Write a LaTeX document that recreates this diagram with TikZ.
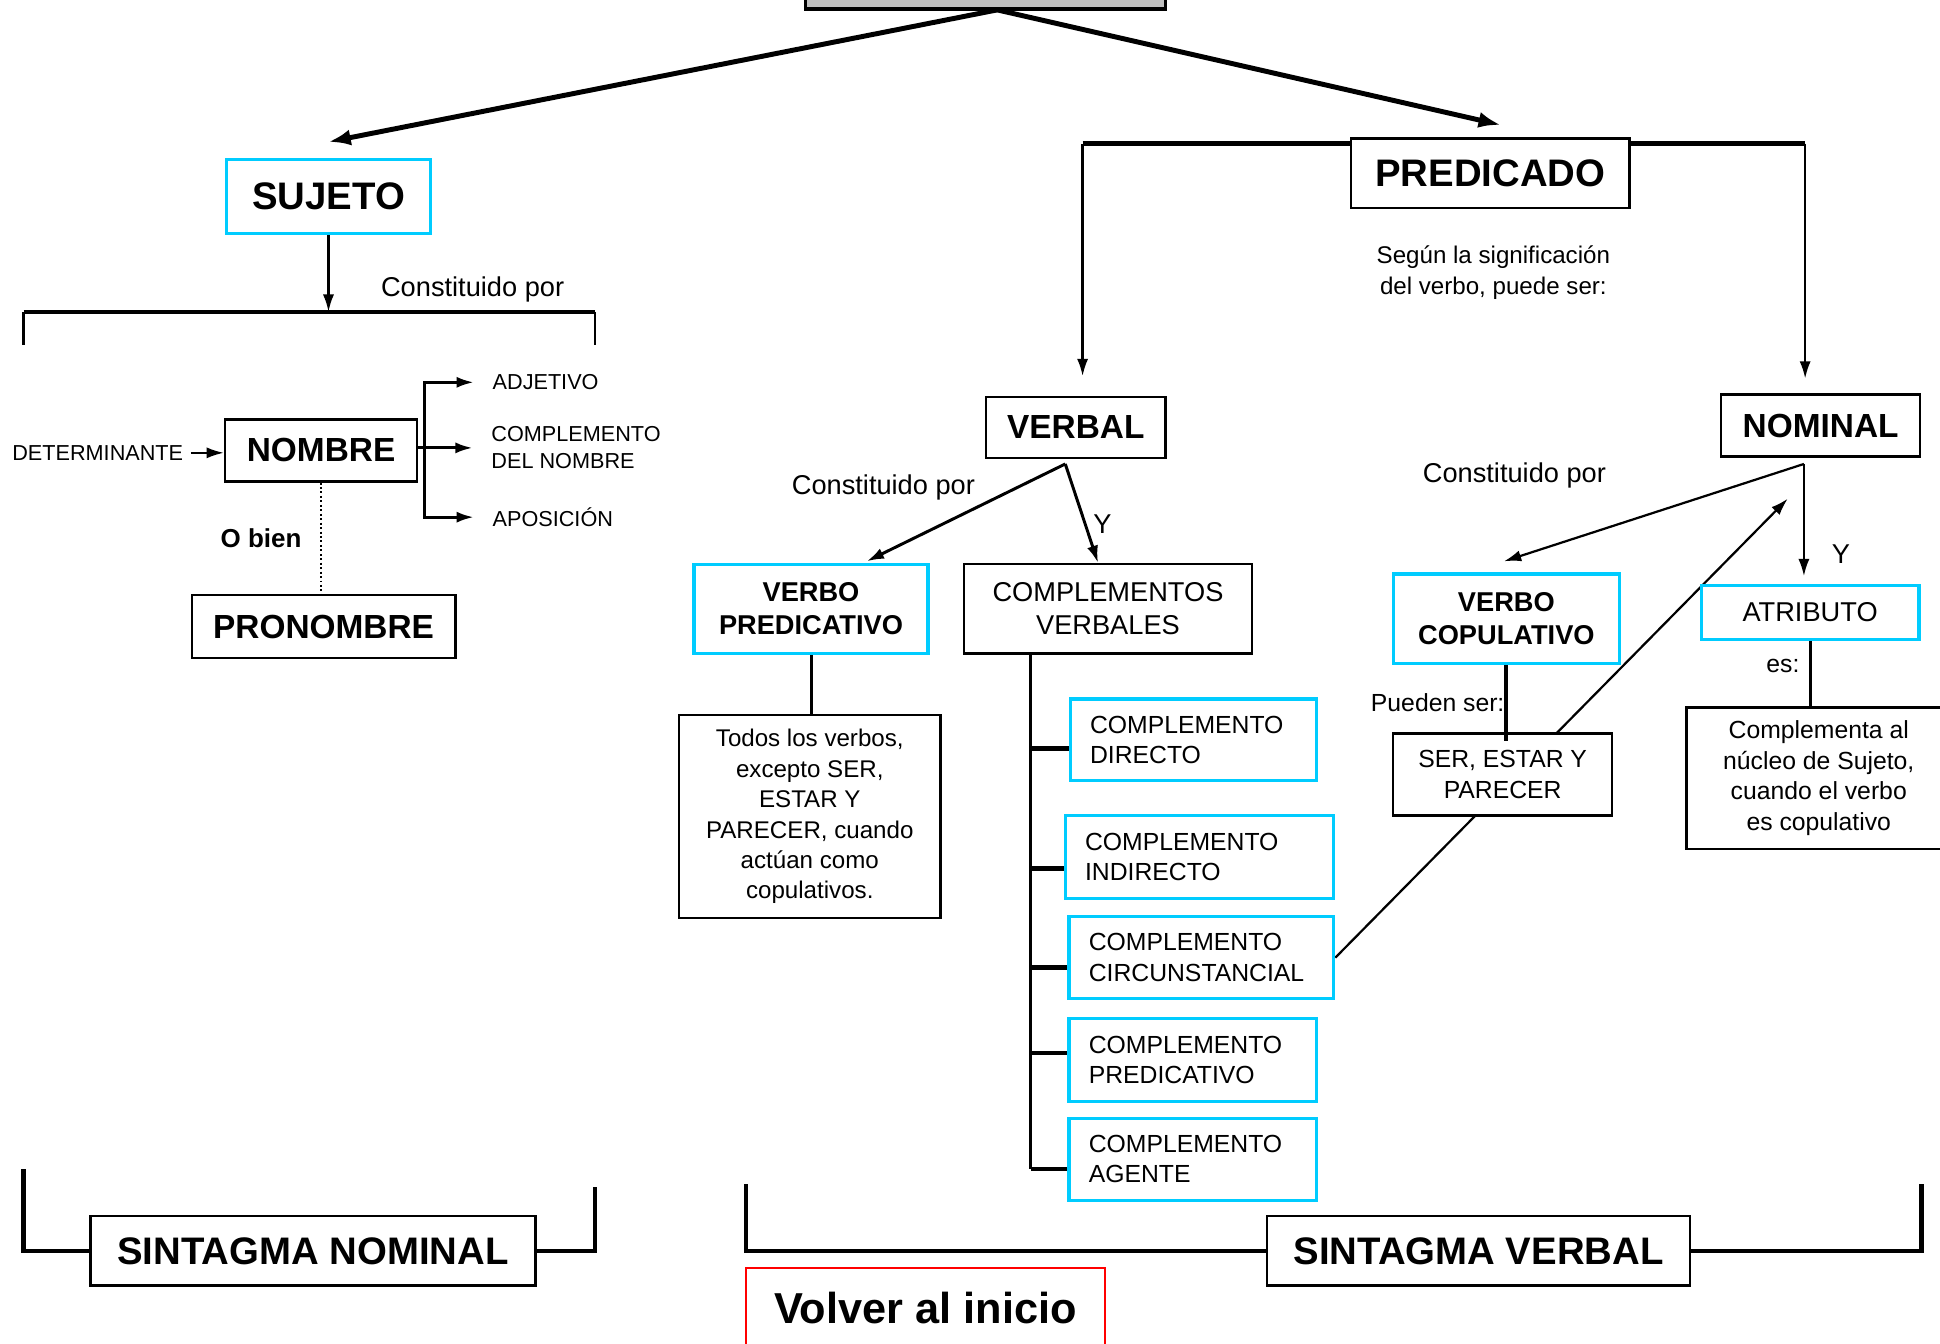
\documentclass[tikz,border=0pt]{standalone}
\usepackage{fontspec}
\setmainfont{Liberation Sans}
\usetikzlibrary{arrows.meta,calc,backgrounds}
\definecolor{celeste}{RGB}{0,204,255}
\newcommand\fsz[2]{\fontsize{#1}{#2}\selectfont}

\begin{document}
\begin{tikzpicture}[x=1pt,y=-1pt,
    box/.style={draw, line width=2pt, fill=white, inner sep=0pt, align=center},
    cbox/.style={box, draw=celeste, line width=2.6pt},
    comp/.style={cbox, font=\fsz{20}{24.5}, align=left, inner xsep=16pt},
    bigtxt/.style={font=\fsz{31}{36}\bfseries},
    midtxt/.style={font=\fsz{27}{32}\bfseries},
    txt/.style={inner sep=0pt, align=center},
    link/.style={line width=1.8pt},
    br/.style={line width=2.4pt},
    bar/.style={line width=3.4pt},
    fat/.style={line width=4pt, -{Latex[length=18pt,width=13pt]}},
    >={Latex[length=14pt,width=9pt]}]

    \useasboundingbox (0,0) rectangle (1568,1086);

    % sujeto
    \node[box, fill=black!25, line width=3pt, minimum width=291pt, minimum height=60pt] (Top) at (796.5,-23) {};
    \node[cbox, bigtxt, minimum width=165pt, minimum height=60pt] (Suj) at (265.5,159) {SUJETO};
    \node[txt, font=\fsz{22}{26}] (cons1) at (382,234) {Constituido por};
    \node[box, midtxt, minimum width=155pt, minimum height=50pt] (Nom) at (259.5,364) {NOMBRE};
    \node[txt, font=\fsz{17.5}{21}] (Det) at (79,366) {DETERMINANTE};
    \node[txt, font=\fsz{17.5}{21}, anchor=west] (Adj) at (398,309) {ADJETIVO};
    \node[txt, font=\fsz{17.5}{22}, anchor=west, align=left] (CN) at (397,362) {COMPLEMENTO\\DEL NOMBRE};
    \node[txt, font=\fsz{17.5}{21}, anchor=west] (Apo) at (398,418) {APOSICIÓN};
    \node[txt, font=\fsz{21}{25}\bfseries] (obien) at (211,435) {O bien};
    \node[box, midtxt, minimum width=213pt, minimum height=51pt] (Pron) at (261.5,506.5) {PRONOMBRE};
    \node[box, bigtxt, minimum width=360pt, minimum height=56pt] (SN) at (253,1011) {SINTAGMA NOMINAL};

    % predicado
    \node[box, bigtxt, minimum width=225pt, minimum height=56pt] (Pred) at (1204.5,140) {PREDICADO};
    \node[txt, font=\fsz{19.5}{25}] (segun) at (1207,220) {Según la significación\\del verbo, puede ser:};
    \node[box, midtxt, minimum width=145pt, minimum height=49pt] (Verb) at (869.5,345.5) {VERBAL};
    \node[box, midtxt, minimum width=161pt, minimum height=50pt] (Nomi) at (1471.5,344) {NOMINAL};
    \node[txt, font=\fsz{22}{26}] (cons2) at (714,394) {Constituido por};
    \node[txt, font=\fsz{22}{26}] (y1) at (891,424) {Y};
    \node[cbox, font=\fsz{22}{27}\bfseries, minimum width=189pt, minimum height=72pt] (VP) at (655.5,492) {VERBO\\PREDICATIVO};
    \node[box, font=\fsz{22}{27}, minimum width=233pt, minimum height=72pt] (CVs) at (895.5,492) {COMPLEMENTOS\\VERBALES};
    \node[box, font=\fsz{19.5}{24.6}, minimum width=211pt, minimum height=164pt] (Todos) at (654.5,660)
        {Todos los verbos,\\excepto SER,\\ESTAR Y\\PARECER, cuando\\actúan como\\copulativos.};
    \node[comp, text width=167pt, minimum height=66pt] (CD) at (964.5,598) {COMPLEMENTO\\DIRECTO};
    \node[comp, text width=185pt, minimum height=67pt] (CI) at (969.5,692.5) {COMPLEMENTO\\INDIRECTO};
    \node[comp, text width=182pt, minimum height=66pt] (CC) at (971,774) {COMPLEMENTO\\CIRCUNSTANCIAL};
    \node[comp, text width=168pt, minimum height=67pt] (CP) at (964,856.5) {COMPLEMENTO\\PREDICATIVO};
    \node[comp, text width=168pt, minimum height=66pt] (CA) at (964,937) {COMPLEMENTO\\AGENTE};
    \node[box, bigtxt, minimum width=342pt, minimum height=56pt] (SV) at (1195,1011) {SINTAGMA VERBAL};
    \node[box, draw=red, line width=1.8pt, font=\fsz{35}{40}\bfseries, minimum width=290pt, minimum height=64pt] (Volver) at (748,1057) {Volver al inicio};

    \node[txt, font=\fsz{22}{26}] (cons3) at (1224,384) {Constituido por};
    \node[txt, font=\fsz{22}{26}] (y2) at (1488,448) {Y};
    \node[cbox, font=\fsz{22}{27}\bfseries, minimum width=183pt, minimum height=72pt] (VC) at (1217.5,500) {VERBO\\COPULATIVO};
    \node[cbox, font=\fsz{22}{26}, minimum width=176pt, minimum height=44pt] (Atr) at (1463,495) {ATRIBUTO};
    \node[txt, font=\fsz{20}{24}] (pueden) at (1162,568) {Pueden ser:};
    \node[txt, font=\fsz{20}{24}] (es) at (1441,538) {es:};
    \node[box, font=\fsz{20}{25}, minimum width=177pt, minimum height=66pt] (Ser) at (1214.5,626) {SER, ESTAR Y\\PARECER};
    \node[box, font=\fsz{20}{24.7}, minimum width=214pt, minimum height=114pt] (Compl) at (1470,629)
        {Complementa al\\núcleo de Sujeto,\\cuando el verbo\\es copulativo};

    \coordinate (root) at (806,8);
    \coordinate (snbar) at (263,252);
    \coordinate (snl) at (19,252);
    \coordinate (snr) at (481,252);
    \coordinate (nb) at (343,362);
    \coordinate (snbl) at (19,945);
    \coordinate (snbr) at (481,959);
    \coordinate (pl) at (875,116);
    \coordinate (pr) at (1459,116);
    \coordinate (vb) at (861,375);
    \coordinate (tr) at (833,945);
    \coordinate (svl) at (603,957);
    \coordinate (svr) at (1553,957);
    \coordinate (nb2) at (1458,375);
    \coordinate (ntip) at (1445,403);

    \draw[fat] (root) -- ($(Suj.north)+(0,-13)$);
    \draw[fat] (root) -- ($(Pred.north)+(8.5,-10)$);

    % sintagma nominal
    \draw[link,->] (Suj.south) -- (Suj.south |- snbar);
    \draw[bar] (snl) -- (snr);
    \draw[link] (snl) -- ++(0,27);
    \draw[link] (snr) -- ++(0,27);
    \draw[link,->,shorten <=6pt] (Det.east) -- (Nom.west |- Det.east);
    \draw[br] (Nom.east |- nb) -- (nb);
    \draw[br,->,shorten >=15pt] (nb) |- (Adj.west);
    \draw[br,->,shorten >=15pt] (nb) -- (CN.west |- nb);
    \draw[br,->,shorten >=15pt] (nb) |- (Apo.west);
    \draw[dotted, line width=1.6pt] (Nom.south) -- (Nom.south |- Pron.north);
    \draw[bar] (snbl) |- (SN.west);
    \draw[bar] (SN.east) -| (snbr);

    % sintagma verbal
    \draw[bar] (pl) -- (Pred.west |- pl);
    \draw[bar] (Pred.east |- pr) -- (pr);
    \draw[link,->,shorten >=16pt] (pl) -- (pl |- Verb.north);
    \draw[link,->,shorten >=12pt] (pr) -- (pr |- Nomi.north);
    \draw[br,->] (vb) -- ($(VP.north)+(45,-1)$);
    \draw[br,->] (vb) -- ($(CVs.north)+(-8,0)$);
    \draw[br] (VP.south) -- (VP.south |- Todos.north);
    \draw[br] (tr |- CVs.south) -- (tr);
    \foreach \c/\y in {CD/605,CI/702,CC/782,CP/851,CA/945}
        \draw[bar] (833,\y) -- (\c.west |- 833,\y);
    \draw[bar] (svl) |- (SV.west);
    \draw[bar] (SV.east) -| (svr);

    \draw[link,->] (nb2) -- ($(VC.north)+(-2,-9)$);
    \draw[link,->,shorten >=6pt] (nb2) -- (nb2 |- Atr.north);
    \draw[bar,shorten >=-7pt] (VC.south) -- (VC.south |- Ser.north);
    \draw[br] (Atr.south) -- (Atr.south |- Compl.north);
    \begin{scope}[on background layer]
        \draw[link,->] (CC.east) -- (ntip);
    \end{scope}
\end{tikzpicture}
\end{document}
